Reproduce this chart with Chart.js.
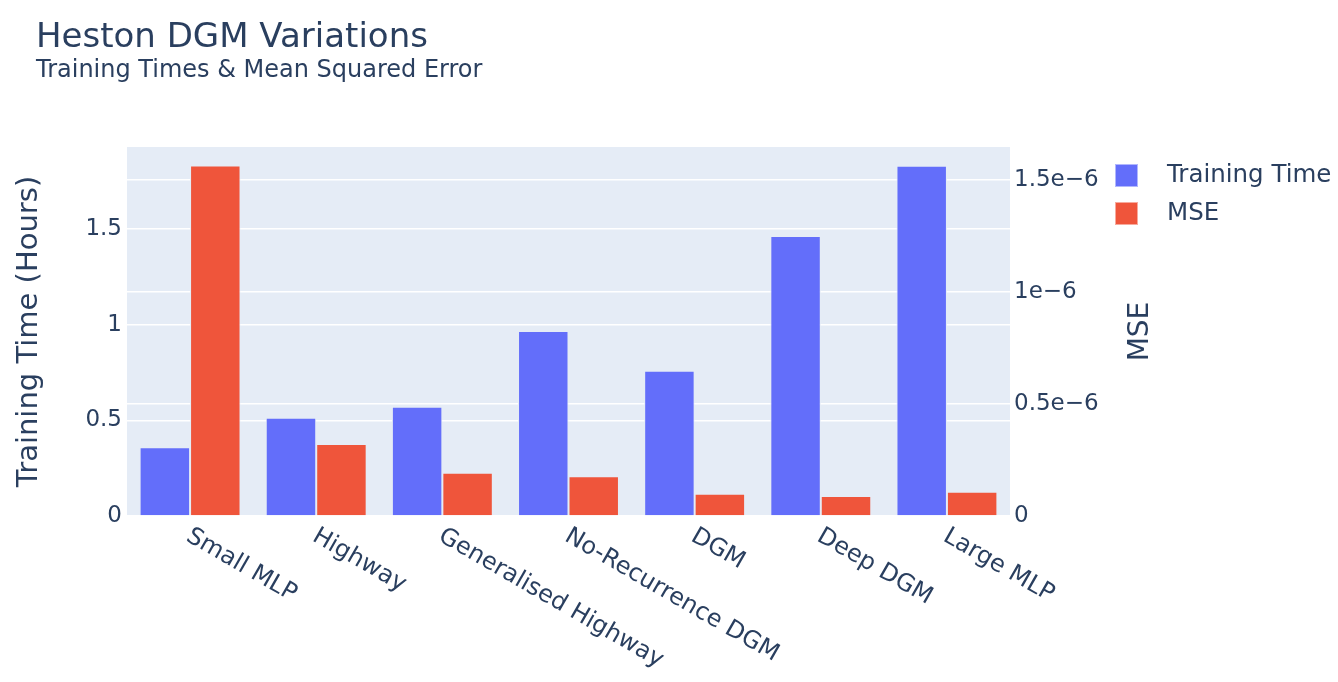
<!DOCTYPE html>
<html>
<head>
<meta charset="utf-8">
<script src="https://cdn.jsdelivr.net/npm/chart.js@4.4.1/dist/chart.umd.min.js"></script>
<style>
  html, body { margin: 0; padding: 0; background: #fff; }
  #wrap { width: 1338px; height: 682px; }
</style>
</head>
<body>
<div id="wrap"><canvas id="chart1" width="1338" height="682"></canvas></div>
<script>
// data
const models = ["Small MLP", "Highway", "Generalised Highway", "No-Recurrence DGM", "DGM", "Deep DGM", "Large MLP"]
const trainingHours = [0.359, 0.514, 0.572, 0.968, 0.760, 1.464, 1.832]
const mseValues = [1.564e-6, 0.321e-6, 0.193e-6, 0.177e-6, 0.0996e-6, 0.089e-6, 0.108e-6]
const hoursTicks = [0, 0.5, 1, 1.5]
const mseTicks = [0, 0.5e-6, 1e-6, 1.5e-6]
const hoursMax = 1.93
const mseMax = 1.647e-6

const FONT = "'DejaVu Sans', Verdana, sans-serif"
const TEXT = "#2a3f5f"
const PLOT_BG = "#E5ECF6"

const canvas = document.getElementById("chart1")
const context = canvas.getContext("2d")

function mseLabel(v) {
    if (v === 0) return "0"
    return (Math.round(v * 1e7) / 10) + "e\u22126"
}

const extras = {
    id: "extras",
    beforeDraw(chart) {
        const a = chart.chartArea
        const c = chart.ctx
        c.save()
        c.fillStyle = PLOT_BG
        c.fillRect(a.left, a.top, a.right - a.left, a.bottom - a.top)
        c.restore()
    },
    afterDraw(chart) {
        const c = chart.ctx
        const a = chart.chartArea
        c.save()
        c.fillStyle = TEXT
        c.textAlign = "left"
        c.textBaseline = "alphabetic"
        c.font = `34px ${FONT}`
        c.fillText("Heston DGM Variations", 36, 47)
        c.font = `24px ${FONT}`
        c.fillText("Training Times & Mean Squared Error", 36, 77)

        // rotated category labels
        const xs = chart.scales.x
        c.font = `24px ${FONT}`
        models.forEach((m, i) => {
            const px = xs.getPixelForValue(i)
            c.save()
            c.translate(px - 5, a.bottom + 24)
            c.rotate(Math.PI / 6)
            c.fillText(m, 0, 0)
            c.restore()
        })

        // right axis title
        c.save()
        c.font = `28px ${FONT}`
        c.textAlign = "center"
        c.textBaseline = "middle"
        c.translate(1141, (a.top + a.bottom) / 2)
        c.rotate(-Math.PI / 2)
        c.fillText("MSE", 0, 0)
        c.restore()

        // legend
        c.font = `24.5px ${FONT}`
        c.textBaseline = "middle"
        chart.data.datasets.forEach((ds, i) => {
            const y = 164 + i * 38
            c.fillStyle = ds.backgroundColor
            c.fillRect(1115, y, 23, 23)
            c.strokeStyle = "rgba(255,255,255,0.5)"
            c.lineWidth = 1
            c.strokeRect(1115.5, y + 0.5, 22, 22)
            c.fillStyle = TEXT
            c.fillText(ds.label, 1167, y + 12)
        })
        c.restore()
    }
}

const config = {
    type: "bar",
    data: {
        labels: models,
        datasets: [
            {
                label: "Training Time",
                data: trainingHours,
                yAxisID: "y",
                backgroundColor: "#636EFA",
                borderColor: PLOT_BG,
                borderWidth: 1
            },
            {
                label: "MSE",
                data: mseValues,
                yAxisID: "y1",
                backgroundColor: "#EF553B",
                borderColor: PLOT_BG,
                borderWidth: 1
            }
        ]
    },
    options: {
        responsive: false,
        animation: false,
        layout: { padding: { top: 147, left: 0, right: 178, bottom: 0 } },
        categoryPercentage: 0.8,
        barPercentage: 1.0,
        plugins: {
            legend: { display: false },
            title: { display: false },
            tooltip: { enabled: false }
        },
        scales: {
            x: {
                grid: { display: false },
                border: { display: false },
                ticks: { display: false },
                afterFit(scale) { scale.height = 166 }
            },
            y: {
                position: "left",
                min: 0,
                max: hoursMax,
                afterBuildTicks(scale) { scale.ticks = hoursTicks.map(v => ({ value: v })) },
                ticks: {
                    color: TEXT,
                    font: { family: FONT, size: 23 },
                    padding: 5,
                    callback: v => String(v)
                },
                grid: { color: "#ffffff", lineWidth: 1.5, drawTicks: false },
                border: { display: false },
                title: {
                    display: true,
                    text: "Training Time (Hours)",
                    color: TEXT,
                    font: { family: FONT, size: 29 },
                    padding: { top: 12, bottom: 0 }
                },
                afterFit(scale) { scale.width = 127 }
            },
            y1: {
                position: "right",
                min: 0,
                max: mseMax,
                afterBuildTicks(scale) { scale.ticks = mseTicks.map(v => ({ value: v })) },
                ticks: {
                    color: TEXT,
                    font: { family: FONT, size: 23 },
                    padding: 4,
                    callback: v => mseLabel(v)
                },
                grid: { color: "#ffffff", lineWidth: 1.5, drawTicks: false },
                border: { display: false },
                afterFit(scale) { scale.width = 150 }
            }
        }
    },
    plugins: [extras]
}

const myChart = new Chart(context, config)
</script>
</body>
</html>
